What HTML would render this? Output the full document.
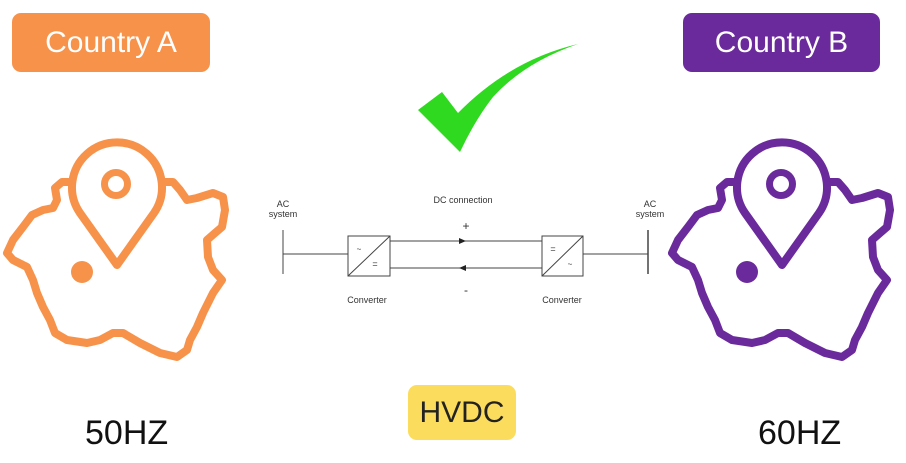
<!DOCTYPE html>
<html><head><meta charset="utf-8"><style>
html,body{margin:0;padding:0;background:#fff;}
body{width:906px;height:463px;position:relative;overflow:hidden;font-family:"Liberation Sans",sans-serif;}
.lbl{position:absolute;border-radius:9px;color:#fff;font-size:30px;display:flex;align-items:center;justify-content:center;}
.hz{position:absolute;font-size:34px;color:#111;}
</style></head><body>
<div class="lbl" style="left:12px;top:13px;width:198px;height:59px;background:#f7924b;">Country A</div>
<div class="lbl" style="left:683px;top:13px;width:197px;height:59px;background:#6a2a9c;">Country B</div>
<div class="lbl" style="left:408px;top:385px;width:108px;height:55px;background:#fbdc5c;color:#222;">HVDC</div>
<div class="hz" style="left:85px;top:414px;">50HZ</div>
<div class="hz" style="left:758px;top:414px;">60HZ</div>
<svg width="906" height="463" style="position:absolute;left:0;top:0" xmlns="http://www.w3.org/2000/svg">
<defs>
<g id="map">
<path d="M72,182 L62,182 L55,188 L57,200 L53,208 L43,210 L32,215 L23,227 L13,240 L7,253 L13,260 L27,267 L33,280 L37,293 L43,307 L50,320 L55,333 L67,340 L87,343 L100,340 L113,333 L123,333 L140,343 L160,353 L177,357 L187,350 L190,340 L197,327 L203,313 L213,293 L222,280 L213,270 L208,257 L207,240 L215,233 L222,227 L225,210 L223,197 L213,193 L197,198 L187,200 L180,190 L173,182 L163,182" fill="none" stroke-width="8" stroke-linejoin="round" stroke-linecap="round"/>
<path d="M117,265 L80,213 A45,45 0 1,1 154,213 Z" fill="#fff" stroke-width="8" stroke-linejoin="round"/>
<circle cx="116" cy="184" r="11.5" fill="none" stroke-width="7"/>
<circle cx="82" cy="272" r="11" stroke="none"/>
</g>
</defs>
<use href="#map" stroke="#f7924b" fill="#f7924b"/>
<use href="#map" transform="translate(665,0)" stroke="#6a2a9c" fill="#6a2a9c"/>
<path d="M418,110 L442,92 L458,113 Q510,60 578,44 Q525,62 493,97 Q475,120 460,152 Z" fill="#2fd91f"/>
<g stroke="#444" stroke-width="1" fill="none">
<line x1="283" y1="230" x2="283" y2="274"/>
<line x1="283" y1="254" x2="348" y2="254"/>
<rect x="348" y="236" width="42" height="40"/>
<line x1="348" y1="276" x2="390" y2="236"/>
<line x1="390" y1="241" x2="542" y2="241"/>
<line x1="390" y1="268" x2="542" y2="268"/>
<rect x="542" y="236" width="41" height="40"/>
<line x1="542" y1="276" x2="583" y2="236"/>
<line x1="583" y1="254" x2="648" y2="254"/>
<line x1="648" y1="230" x2="648" y2="274" stroke-width="1.5"/>
</g>
<polygon points="459,238 466,241 459,244" fill="#222"/>
<polygon points="466,265 459,268 466,271" fill="#222"/>
<g font-family="Liberation Sans, sans-serif" font-size="9" fill="#333" text-anchor="middle">
<text x="283" y="207">AC</text><text x="283" y="217">system</text>
<text x="650" y="207">AC</text><text x="650" y="217">system</text>
<text x="463" y="203">DC connection</text>
<text x="367" y="303">Converter</text><text x="562" y="303">Converter</text>
<text x="466" y="230" font-size="12">+</text>
<text x="466" y="294" font-size="12">-</text>
<text x="359" y="252" font-size="8">~</text><text x="375" y="267" font-size="9">=</text>
<text x="553" y="252" font-size="9">=</text><text x="570" y="267" font-size="8">~</text>
</g>
</svg>
</body></html>
